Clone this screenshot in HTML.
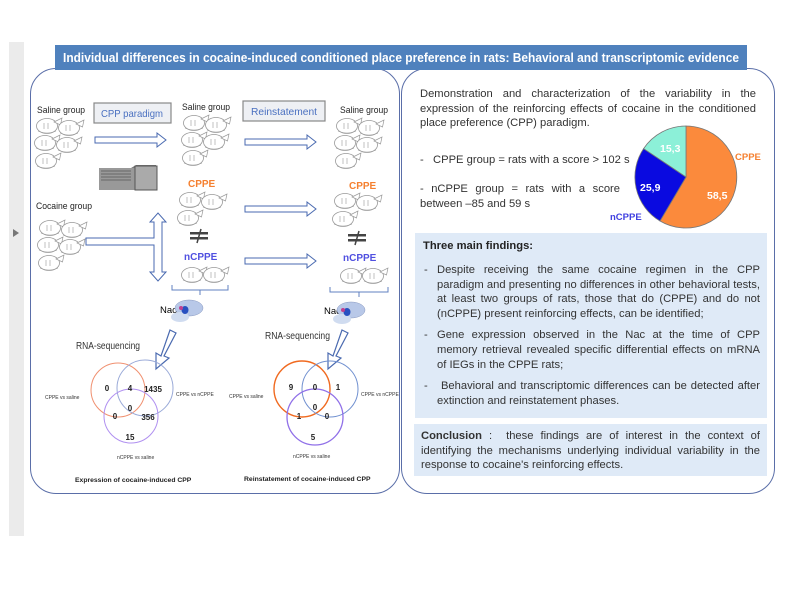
<!DOCTYPE html>
<html><head><meta charset="utf-8"><style>
body{margin:0;background:#fff;width:800px;height:600px;overflow:hidden;position:relative;font-family:"Liberation Sans",sans-serif}
.t{position:absolute;left:420px;width:335px;font-size:11.2px;color:#333;line-height:14.6px;text-align:justify}
.box{position:absolute;background:#dfeaf7}
ul{margin:0;padding:0;list-style:none}
li{position:relative;padding-left:15px;margin-bottom:7px;text-align:justify}
li:before{content:"-";position:absolute;left:2px}
</style></head><body>
<div style="position:absolute;left:9px;top:42px;width:15px;height:494px;background:#ebebeb"></div>
<div style="position:absolute;left:13px;top:229px;width:0;height:0;border-left:6px solid #777;border-top:4px solid transparent;border-bottom:4px solid transparent"></div>
<div style="position:absolute;left:30px;top:68px;width:368px;height:424px;border:1.3px solid #5a6ea8;border-radius:26px"></div>
<div style="position:absolute;left:401px;top:68px;width:372px;height:424px;border:1.3px solid #5a6ea8;border-radius:26px"></div>
<div style="position:absolute;left:55px;top:45px;width:692px;height:25px;background:#4f81bd"></div>

<div class="t" style="top:87px;width:336px">Demonstration and characterization of the variability in the expression of the reinforcing effects of cocaine in the conditioned place preference (CPP) paradigm.</div>
<div class="t" style="top:153px;width:240px">-&nbsp;&nbsp; CPPE group = rats with a score &gt; 102 s</div>
<div class="t" style="top:182px;width:200px">- nCPPE group = rats with a score between –85 and 59 s</div>

<div class="box" style="left:415px;top:233px;width:352px;height:185px"></div>
<div class="box" style="left:414px;top:424px;width:353px;height:52px"></div>
<div class="t" style="top:239px;font-weight:bold;color:#222;left:423px">Three main findings:</div>
<div class="t" style="top:263px;left:422px;width:338px"><ul>
<li>Despite receiving the same cocaine regimen in the CPP paradigm and presenting no differences in other behavioral tests, at least two groups of rats, those that do (CPPE) and do not (nCPPE) present reinforcing effects, can be identified;</li>
<li>Gene expression observed in the Nac at the time of CPP memory retrieval revealed specific differential effects on mRNA of IEGs in the CPPE rats;</li>
<li>&nbsp;Behavioral and transcriptomic differences can be detected after extinction and reinstatement phases.</li></ul></div>
<div class="t" style="top:429px;left:421px;width:339px"><b>Conclusion</b> : &nbsp;these findings are of interest in the context of identifying the mechanisms underlying individual variability in the response to cocaine's reinforcing effects.</div>

<svg width="800" height="600" style="position:absolute;left:0;top:0" xmlns="http://www.w3.org/2000/svg" font-family="Liberation Sans,sans-serif">
<text x="63" y="62" font-size="12.6" font-weight="bold" fill="#fff" textLength="676" lengthAdjust="spacingAndGlyphs">Individual differences in cocaine-induced conditioned place preference in rats: Behavioral and transcriptomic evidence</text>
<defs>
<g id="r"><ellipse cx="10" cy="8" rx="10.5" ry="7.5" fill="#fff" stroke="#999" stroke-width="0.8"/><path d="M17 4 l8 -4 l-1.5 7 z" fill="#fff" stroke="#999" stroke-width="0.7"/><path d="M7 5 v6 M11 5 v6 M1 13 q9 4 18 0" stroke="#999" stroke-width="0.6" fill="none"/></g>
<g id="c5"><use href="#r" x="0" y="0"/><use href="#r" x="22" y="2"/><use href="#r" x="-2" y="17"/><use href="#r" x="20" y="19"/><use href="#r" x="-1" y="35"/></g>
<g id="c3"><use href="#r" x="0" y="0"/><use href="#r" x="22" y="2"/><use href="#r" x="-2" y="18"/></g>
<g id="c2"><use href="#r" x="0" y="0"/><use href="#r" x="22" y="0"/></g>
<g id="ha"><path d="M0 -3 h62 v-4 l9 7 l-9 7 v-4 h-62 z" fill="#fff" stroke="#4a6ab0" stroke-width="1"/></g>
<g id="ne"><rect x="-9" y="-4" width="18" height="2.5" fill="#444"/><rect x="-9" y="1" width="18" height="2.5" fill="#444"/><path d="M2 -7 l-4 14" stroke="#444" stroke-width="1.5"/></g>
<g id="br"><ellipse cx="18" cy="8" rx="14" ry="8" fill="#b8c8e8" stroke="#8898c0" stroke-width="0.5"/><ellipse cx="9" cy="17" rx="9" ry="5" fill="#d0dcf0"/><ellipse cx="14" cy="10" rx="3.5" ry="4" fill="#2850c0"/><circle cx="10" cy="8" r="2" fill="#c04090"/></g>
</defs>
<g font-size="9.5" fill="#222">
<text x="37" y="113" textLength="48" lengthAdjust="spacingAndGlyphs">Saline group</text><text x="182" y="110" textLength="48" lengthAdjust="spacingAndGlyphs">Saline group</text><text x="340" y="113" textLength="48" lengthAdjust="spacingAndGlyphs">Saline group</text>
<text x="36" y="209" textLength="56" lengthAdjust="spacingAndGlyphs">Cocaine group</text>
</g>
<rect x="94" y="103" width="77" height="20" fill="#eef0f4" stroke="#888" stroke-width="1.2"/>
<text x="132" y="117" font-size="10.5" fill="#4a70c0" text-anchor="middle" textLength="62" lengthAdjust="spacingAndGlyphs">CPP paradigm</text>
<rect x="243" y="101" width="82" height="20" fill="#eef0f4" stroke="#888" stroke-width="1.2"/>
<text x="284" y="115" font-size="10.5" fill="#4a70c0" text-anchor="middle" textLength="66" lengthAdjust="spacingAndGlyphs">Reinstatement</text>
<use href="#c5" x="37" y="118"/><use href="#c5" x="184" y="115"/><use href="#c5" x="337" y="118"/>
<use href="#c5" x="40" y="220"/>
<use href="#c3" x="180" y="192"/><use href="#c3" x="335" y="193"/>
<use href="#c2" x="182" y="267"/><use href="#c2" x="341" y="268"/>
<use href="#ha" x="95" y="140"/><use href="#ha" x="245" y="142"/><use href="#ha" x="245" y="209"/><use href="#ha" x="245" y="261"/>
<g transform="translate(99,168)"><path d="M0 0 h32 l5 -3 h20 v24 h-57 z" fill="#777"/><rect x="0" y="0" width="36" height="22" fill="#999"/><path d="M2 3h30M2 6h30M2 9h30M2 12h30" stroke="#666" stroke-width="1"/><rect x="36" y="-2" width="22" height="24" fill="#aaa" stroke="#555"/></g>
<path d="M86 238 h68 v-16 h-4 l8 -9 l8 9 h-4 v50 h4 l-8 9 l-8 -9 h4 v-27 h-68 z" fill="#fff" stroke="#4a6ab0" stroke-width="1"/>
<g font-size="10" font-weight="bold"><text x="188" y="187" fill="#f58030">CPPE</text><text x="349" y="189" fill="#f58030">CPPE</text>
<text x="184" y="260" fill="#5050e0">nCPPE</text><text x="343" y="261" fill="#5050e0">nCPPE</text></g>
<use href="#ne" x="199" y="236"/><use href="#ne" x="357" y="238"/>
<path d="M172 285 v5 h56 v-5 M200 290 v5" stroke="#6080c0" fill="none"/>
<path d="M330 287 v5 h58 v-5 M359 292 v5" stroke="#6080c0" fill="none"/>
<text x="160" y="313" font-size="9.5">Nac</text><text x="324" y="314" font-size="9.5">Nac</text>
<use href="#br" x="171" y="300"/><use href="#br" x="333" y="302"/>
<text x="76" y="349" font-size="10" fill="#333" textLength="64" lengthAdjust="spacingAndGlyphs">RNA-sequencing</text><text x="265" y="339" font-size="10" fill="#333" textLength="65" lengthAdjust="spacingAndGlyphs">RNA-sequencing</text>
<path d="M170 330 l6 3 l-12 23 l5 2 l-13 11 l0 -16 l5 3 z" fill="#fff" stroke="#4a6ab0" stroke-width="1.2"/>
<path d="M342 330 l6 3 l-12 23 l5 2 l-13 11 l0 -16 l5 3 z" fill="#fff" stroke="#4a6ab0" stroke-width="1.2"/>
<g fill="none" stroke-width="1"><circle cx="118" cy="390" r="27" stroke="#f09070"/><circle cx="145" cy="388" r="28" stroke="#9aaad8"/><circle cx="131" cy="416" r="27" stroke="#b090f0"/>
<circle cx="302" cy="389" r="28" stroke="#f06a20" stroke-width="1.4"/><circle cx="330" cy="389" r="28" stroke="#7090d0"/><circle cx="315" cy="417" r="28" stroke="#9070e8" stroke-width="1.3"/></g>
<g font-size="8" font-weight="bold" fill="#222" text-anchor="middle">
<text x="107" y="391">0</text><text x="130" y="391">4</text><text x="153" y="392">1435</text><text x="130" y="411">0</text><text x="115" y="419">0</text><text x="148" y="420">356</text><text x="130" y="440">15</text>
<text x="291" y="390">9</text><text x="315" y="390">0</text><text x="338" y="390">1</text><text x="299" y="419">1</text><text x="315" y="410">0</text><text x="327" y="419">0</text><text x="313" y="440">5</text></g>
<g font-size="5" fill="#333"><text x="45" y="399">CPPE vs saline</text><text x="176" y="396">CPPE vs nCPPE</text><text x="117" y="459">nCPPE vs saline</text>
<text x="229" y="398">CPPE vs saline</text><text x="361" y="396">CPPE vs nCPPE</text><text x="293" y="458">nCPPE vs saline</text></g>
<g font-size="6.8" font-weight="bold" fill="#222"><text x="75" y="482">Expression of cocaine-induced CPP</text><text x="244" y="481">Reinstatement of cocaine-induced CPP</text></g>
<g stroke="#777" stroke-width="0.8">
<path d="M686 177 L686 126 A51 51 0 1 1 660 221 Z" fill="#fb8a3c"/>
<path d="M686 177 L660 221 A51 51 0 0 1 643.6 148.6 Z" fill="#0a0ae0"/>
<path d="M686 177 L643.6 148.6 A51 51 0 0 1 686 126 Z" fill="#8cf0d8"/></g>
<g font-size="10.5" font-weight="bold" fill="#fff"><text x="660" y="152">15,3</text><text x="640" y="191">25,9</text><text x="707" y="199">58,5</text></g>
<text x="735" y="160" font-size="9.5" font-weight="bold" fill="#f58030">CPPE</text>
<text x="610" y="220" font-size="9.5" font-weight="bold" fill="#4040e0">nCPPE</text>
</svg>
</body></html>
